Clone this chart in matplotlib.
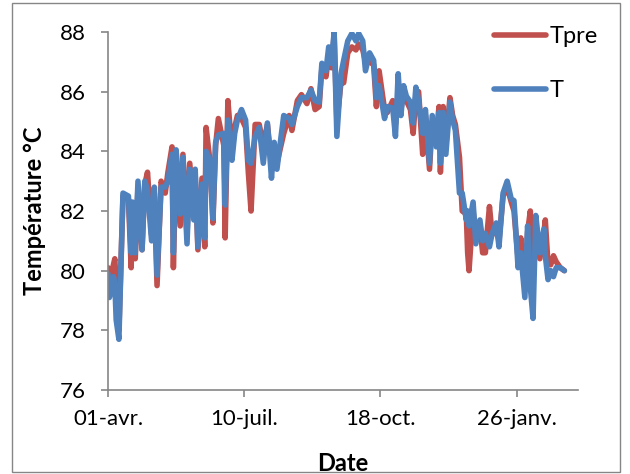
import matplotlib
matplotlib.use("Agg")
import matplotlib.pyplot as plt
import numpy as np
import pandas as pd
from matplotlib.patches import Rectangle

# day offsets from 01-avr. and temperatures
days = [0, 1, 4, 5, 6, 8, 11, 15, 17, 18, 20, 22, 25, 27, 29, 32, 34, 36, 39, 42,
        44, 47, 48, 50, 53, 55, 58, 60, 63, 64, 66, 69, 71, 72, 75, 77, 79, 81, 85, 86,
        88, 91, 93, 95, 98, 101, 103, 105, 108, 111, 114, 117, 120, 122, 124, 129, 133, 135, 139, 142,
        146, 149, 152, 155, 157, 160, 162, 164, 166, 168, 171, 173, 176, 179, 182, 184, 187, 189, 192, 195,
        197, 199, 203, 205, 209, 211, 213, 215, 217, 219, 222, 224, 226, 228, 231, 233, 236, 238, 241, 243,
        244, 246, 248, 251, 253, 255, 258, 260, 263, 264, 265, 268, 270, 273, 275, 277, 280, 282, 285, 287,
        290, 293, 296, 298, 301, 303, 306, 308, 310, 312, 314, 317, 320, 321, 323, 325, 327, 329, 332, 335]

T = [79.9, 79.1, 79.8, 79.6, 78.35, 77.7, 82.6, 82.5, 80.6, 82.3, 80.6, 83.0, 80.7, 83.0, 82.7, 81.0, 82.8, 79.85, 82.8, 82.8,
     83.0, 83.9, 80.6, 84.05, 81.9, 83.8, 80.9, 83.4, 81.7, 83.4, 80.8, 82.9, 81.1, 84.0, 83.7, 81.75, 84.3, 84.55, 84.6, 82.2,
     85.05, 83.7, 84.6, 85.05, 85.4, 85.05, 83.7, 83.6, 84.5, 84.8, 83.6, 84.95, 83.1, 84.3, 83.4, 85.2, 85.1, 84.9, 85.5, 85.8,
     85.8, 86.05, 85.7, 85.65, 86.95, 86.7, 87.5, 86.95, 88.0, 84.5, 86.6, 87.05, 87.7, 87.95, 87.7, 87.95, 87.7, 86.7, 87.3, 87.05,
     85.8, 86.2, 85.1, 85.5, 85.45, 84.5, 86.6, 85.2, 86.2, 85.85, 85.65, 84.95, 86.15, 85.7, 84.6, 85.4, 83.6, 85.2, 84.15, 85.3,
     83.6, 85.3, 83.9, 85.65, 85.05, 84.7, 82.6, 82.6, 81.7, 82.0, 81.5, 82.3, 80.9, 81.7, 81.0, 81.25, 80.8, 81.25, 81.6, 80.8,
     82.6, 83.0, 82.4, 82.35, 80.1, 80.6, 79.1, 81.5, 79.45, 78.4, 81.85, 80.6, 81.4, 80.5, 79.7, 80.0, 79.8, 80.1, 80.1, 80.0]

Tpre = [80.1, 79.5, 80.2, 80.4, 79.5, 78.0, 82.5, 82.4, 80.1, 82.2, 80.4, 82.8, 80.7, 82.9, 83.3, 81.2, 82.6, 79.5, 83.0, 82.6,
        83.3, 84.15, 80.1, 84.0, 81.5, 83.9, 81.2, 83.6, 82.0, 83.2, 80.7, 83.1, 80.8, 84.8, 83.6, 81.6, 84.2, 85.1, 84.2, 81.1,
        85.7, 84.0, 84.8, 85.2, 85.1, 84.8, 83.3, 82.0, 84.9, 84.9, 84.2, 84.9, 83.6, 83.7, 83.6, 84.6, 85.2, 84.7, 85.7, 85.9,
        85.6, 86.1, 85.4, 85.5, 86.8, 86.5, 87.2, 86.8, 87.9, 85.0, 86.3, 86.3, 87.3, 87.5, 87.4, 87.6, 87.4, 87.0, 87.0, 86.9,
        85.5, 86.7, 85.4, 85.3, 85.7, 84.9, 85.9, 85.4, 86.0, 85.7, 85.4, 84.6, 85.9, 86.0, 83.9, 85.2, 83.4, 85.0, 84.6, 85.5,
        83.3, 85.5, 84.2, 85.8, 85.2, 84.9, 83.8, 82.0, 81.9, 80.6, 80.0, 82.0, 81.2, 81.5, 80.6, 80.6, 82.15, 81.2, 81.4, 81.0,
        82.5, 82.8, 82.3, 82.0, 80.4, 81.1, 79.5, 81.3, 82.0, 80.2, 81.6, 80.4, 81.3, 81.7, 80.2, 80.2, 80.5, 80.3, 80.1, 80.0]

tick_days = [0, 100, 200, 300]
tick_labels = ["01-avr.", "10-juil.", "18-oct.", "26-janv."]
y_ticks = [76, 78, 80, 82, 84, 86, 88]

start = pd.Timestamp("2013-04-01")
dates = start + pd.to_timedelta(days, unit="D")
tick_dates = start + pd.to_timedelta(tick_days, unit="D")

plt.rcParams['font.family'] = ['Lato', 'DejaVu Sans']

fig = plt.figure(figsize=(6.3, 4.74), dpi=100)
ax = fig.add_axes([108/630, 1 - 390/474, (578-108)/630, (390-32)/474])

ax.plot(dates, Tpre, color='#C0504D', lw=4, solid_joinstyle='round', solid_capstyle='round', label='Tpre')
ax.plot(dates, T, color='#4F81BD', lw=4, solid_joinstyle='round', solid_capstyle='round', label='T')

ax.set_xlim(start, start + pd.Timedelta(days=345))
ax.set_ylim(76, 88)
ax.set_xticks(tick_dates)
ax.set_xticklabels(tick_labels)
ax.set_yticks(y_ticks)

for s in ['top', 'right']:
    ax.spines[s].set_visible(False)
for s in ['left', 'bottom']:
    ax.spines[s].set_color('#868686')
    ax.spines[s].set_linewidth(1.2)
ax.tick_params(axis='both', direction='out', length=5, width=1.2, color='#868686',
               labelsize=16, labelcolor='black')
ax.tick_params(axis='y', pad=11)
ax.tick_params(axis='x', pad=9)

ax.set_xlabel('Date', fontsize=17, fontweight='bold', labelpad=16)
ax.set_ylabel('Température °C', fontsize=17, fontweight='bold', labelpad=10)

ax.legend(loc='upper left', bbox_to_anchor=(494/630, 1 - 26/474), bbox_transform=fig.transFigure,
          frameon=False, fontsize=17, handlelength=2.2, handletextpad=0.15, labelspacing=1.4,
          borderaxespad=0, borderpad=0)

# chart area border
fig.patches.append(Rectangle((12/630, 2/474), 608/630, 469/474, transform=fig.transFigure,
                             fill=False, edgecolor='#868686', lw=1))

fig.savefig('out.png', dpi=100)
